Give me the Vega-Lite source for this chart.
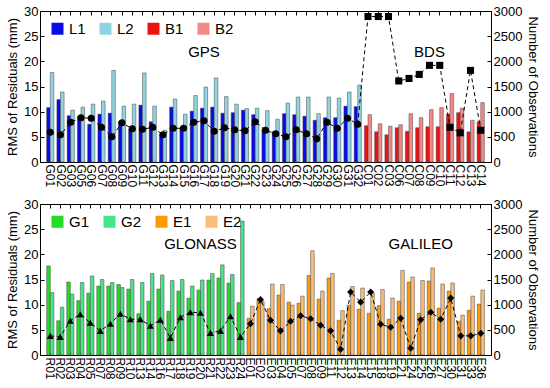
{
  "$schema": "https://vega.github.io/schema/vega-lite/v6.json",
  "padding": {"left": 6, "right": 6, "top": 4, "bottom": 2},
  "spacing": 9,
  "config": {
    "font": "Liberation Sans",
    "view": {"stroke": "black", "strokeWidth": 1},
    "axis": {"domainColor": "black", "tickColor": "black", "labelColor": "black", "titleColor": "black", "labelFontSize": 13, "titleFontSize": 13, "titleFontWeight": "normal", "grid": false, "labelFont": "Liberation Sans", "titleFont": "Liberation Sans"},
    "legend": {"orient": "top-left", "direction": "horizontal", "offset": 10, "padding": 0, "columnPadding": 12, "labelOffset": 4, "symbolType": "square", "symbolSize": 144, "symbolStrokeWidth": 0, "labelFontSize": 15, "labelColor": "black", "title": null}
  },
  "datasets": {
    "top_bars": [
      {"sat":"G01","band":"L1","f":1,"rms":10.8},{"sat":"G01","band":"L2","f":2,"rms":17.8},
      {"sat":"G02","band":"L1","f":1,"rms":12.4},{"sat":"G02","band":"L2","f":2,"rms":13.9},
      {"sat":"G03","band":"L1","f":1,"rms":9.2},{"sat":"G03","band":"L2","f":2,"rms":10.3},
      {"sat":"G05","band":"L1","f":1,"rms":9.0},{"sat":"G05","band":"L2","f":2,"rms":10.9},
      {"sat":"G06","band":"L1","f":1,"rms":7.5},{"sat":"G06","band":"L2","f":2,"rms":11.5},
      {"sat":"G07","band":"L1","f":1,"rms":9.5},{"sat":"G07","band":"L2","f":2,"rms":12.1},
      {"sat":"G08","band":"L1","f":1,"rms":9.7},{"sat":"G08","band":"L2","f":2,"rms":18.2},
      {"sat":"G09","band":"L1","f":1,"rms":8.0},{"sat":"G09","band":"L2","f":2,"rms":11.1},
      {"sat":"G10","band":"L1","f":1,"rms":6.5},{"sat":"G10","band":"L2","f":2,"rms":11.5},
      {"sat":"G11","band":"L1","f":1,"rms":11.3},{"sat":"G11","band":"L2","f":2,"rms":17.7},
      {"sat":"G12","band":"L1","f":1,"rms":8.0},{"sat":"G12","band":"L2","f":2,"rms":11.1},
      {"sat":"G13","band":"L1","f":1,"rms":5.5},{"sat":"G13","band":"L2","f":2,"rms":6.3},
      {"sat":"G14","band":"L1","f":1,"rms":10.9},{"sat":"G14","band":"L2","f":2,"rms":12.5},
      {"sat":"G15","band":"L1","f":1,"rms":6.8},{"sat":"G15","band":"L2","f":2,"rms":9.5},
      {"sat":"G16","band":"L1","f":1,"rms":10.1},{"sat":"G16","band":"L2","f":2,"rms":13.2},
      {"sat":"G17","band":"L1","f":1,"rms":10.7},{"sat":"G17","band":"L2","f":2,"rms":14.9},
      {"sat":"G18","band":"L1","f":1,"rms":10.9},{"sat":"G18","band":"L2","f":2,"rms":16.7},
      {"sat":"G19","band":"L1","f":1,"rms":9.7},{"sat":"G19","band":"L2","f":2,"rms":13.0},
      {"sat":"G20","band":"L1","f":1,"rms":9.8},{"sat":"G20","band":"L2","f":2,"rms":11.5},
      {"sat":"G21","band":"L1","f":1,"rms":10.3},{"sat":"G21","band":"L2","f":2,"rms":10.6},
      {"sat":"G22","band":"L1","f":1,"rms":9.4},{"sat":"G22","band":"L2","f":2,"rms":10.7},
      {"sat":"G23","band":"L1","f":1,"rms":6.5},{"sat":"G23","band":"L2","f":2,"rms":10.2},
      {"sat":"G24","band":"L1","f":1,"rms":6.0},{"sat":"G24","band":"L2","f":2,"rms":8.5},
      {"sat":"G25","band":"L1","f":1,"rms":9.6},{"sat":"G25","band":"L2","f":2,"rms":11.7},
      {"sat":"G26","band":"L1","f":1,"rms":9.4},{"sat":"G26","band":"L2","f":2,"rms":12.9},
      {"sat":"G27","band":"L1","f":1,"rms":9.1},{"sat":"G27","band":"L2","f":2,"rms":12.9},
      {"sat":"G28","band":"L1","f":1,"rms":8.3},{"sat":"G28","band":"L2","f":2,"rms":9.6},
      {"sat":"G29","band":"L1","f":1,"rms":8.8},{"sat":"G29","band":"L2","f":2,"rms":12.9},
      {"sat":"G30","band":"L1","f":1,"rms":8.8},{"sat":"G30","band":"L2","f":2,"rms":12.7},
      {"sat":"G31","band":"L1","f":1,"rms":11.1},{"sat":"G31","band":"L2","f":2,"rms":13.9},
      {"sat":"G32","band":"L1","f":1,"rms":11.0},{"sat":"G32","band":"L2","f":2,"rms":15.3},
      {"sat":"C01","band":"B1","f":1,"rms":7.2},{"sat":"C01","band":"B2","f":2,"rms":9.4},
      {"sat":"C02","band":"B1","f":1,"rms":6.0},{"sat":"C02","band":"B2","f":2,"rms":7.6},
      {"sat":"C03","band":"B1","f":1,"rms":5.4},{"sat":"C03","band":"B2","f":2,"rms":7.1},
      {"sat":"C06","band":"B1","f":1,"rms":6.8},{"sat":"C06","band":"B2","f":2,"rms":7.4},
      {"sat":"C07","band":"B1","f":1,"rms":6.1},{"sat":"C07","band":"B2","f":2,"rms":9.6},
      {"sat":"C08","band":"B1","f":1,"rms":6.8},{"sat":"C08","band":"B2","f":2,"rms":8.8},
      {"sat":"C09","band":"B1","f":1,"rms":7.0},{"sat":"C09","band":"B2","f":2,"rms":10.4},
      {"sat":"C10","band":"B1","f":1,"rms":7.0},{"sat":"C10","band":"B2","f":2,"rms":10.8},
      {"sat":"C11","band":"B1","f":1,"rms":9.5},{"sat":"C11","band":"B2","f":2,"rms":13.6},
      {"sat":"C12","band":"B1","f":1,"rms":9.8},{"sat":"C12","band":"B2","f":2,"rms":10.7},
      {"sat":"C13","band":"B1","f":1,"rms":6.0},{"sat":"C13","band":"B2","f":2,"rms":8.3},
      {"sat":"C14","band":"B1","f":1,"rms":8.0},{"sat":"C14","band":"B2","f":2,"rms":11.8}
    ],
    "top_obs": [
      {"sat":"G01","sys":"GPS","obs":590},{"sat":"G02","sys":"GPS","obs":540},{"sat":"G03","sys":"GPS","obs":790},
      {"sat":"G05","sys":"GPS","obs":880},{"sat":"G06","sys":"GPS","obs":870},{"sat":"G07","sys":"GPS","obs":690},
      {"sat":"G08","sys":"GPS","obs":500},{"sat":"G09","sys":"GPS","obs":780},{"sat":"G10","sys":"GPS","obs":660},
      {"sat":"G11","sys":"GPS","obs":650},{"sat":"G12","sys":"GPS","obs":690},{"sat":"G13","sys":"GPS","obs":540},
      {"sat":"G14","sys":"GPS","obs":670},{"sat":"G15","sys":"GPS","obs":670},{"sat":"G16","sys":"GPS","obs":790},
      {"sat":"G17","sys":"GPS","obs":820},{"sat":"G18","sys":"GPS","obs":610},{"sat":"G19","sys":"GPS","obs":680},
      {"sat":"G20","sys":"GPS","obs":640},{"sat":"G21","sys":"GPS","obs":620},{"sat":"G22","sys":"GPS","obs":800},
      {"sat":"G23","sys":"GPS","obs":630},{"sat":"G24","sys":"GPS","obs":560},{"sat":"G25","sys":"GPS","obs":500},
      {"sat":"G26","sys":"GPS","obs":640},{"sat":"G27","sys":"GPS","obs":560},{"sat":"G28","sys":"GPS","obs":460},
      {"sat":"G29","sys":"GPS","obs":790},{"sat":"G30","sys":"GPS","obs":670},{"sat":"G31","sys":"GPS","obs":870},
      {"sat":"G32","sys":"GPS","obs":750},
      {"sat":"C01","sys":"BDS","obs":2890},{"sat":"C02","sys":"BDS","obs":2890},{"sat":"C03","sys":"BDS","obs":2890},
      {"sat":"C06","sys":"BDS","obs":1610},{"sat":"C07","sys":"BDS","obs":1660},{"sat":"C08","sys":"BDS","obs":1740},
      {"sat":"C09","sys":"BDS","obs":1920},{"sat":"C10","sys":"BDS","obs":1920},{"sat":"C11","sys":"BDS","obs":690},
      {"sat":"C12","sys":"BDS","obs":580},{"sat":"C13","sys":"BDS","obs":1820},{"sat":"C14","sys":"BDS","obs":630}
    ],
    "top_text": [
      {"sat":"G17","rms":21.9,"label":"GPS"},
      {"sat":"C09","rms":21.9,"label":"BDS"}
    ],
    "bot_bars": [
      {"sat":"R01","band":"G1","f":1,"rms":17.7},{"sat":"R01","band":"G2","f":2,"rms":12.4},
      {"sat":"R02","band":"G1","f":1,"rms":6.8},{"sat":"R02","band":"G2","f":2,"rms":9.5},
      {"sat":"R03","band":"G1","f":1,"rms":14.5},{"sat":"R03","band":"G2","f":2,"rms":12.1},
      {"sat":"R04","band":"G1","f":1,"rms":10.8},{"sat":"R04","band":"G2","f":2,"rms":14.4},
      {"sat":"R05","band":"G1","f":1,"rms":12.3},{"sat":"R05","band":"G2","f":2,"rms":15.7},
      {"sat":"R07","band":"G1","f":1,"rms":13.7},{"sat":"R07","band":"G2","f":2,"rms":15.0},
      {"sat":"R08","band":"G1","f":1,"rms":13.7},{"sat":"R08","band":"G2","f":2,"rms":14.4},
      {"sat":"R09","band":"G1","f":1,"rms":14.0},{"sat":"R09","band":"G2","f":2,"rms":13.4},
      {"sat":"R10","band":"G1","f":1,"rms":13.1},{"sat":"R10","band":"G2","f":2,"rms":15.0},
      {"sat":"R13","band":"G1","f":1,"rms":8.2},{"sat":"R13","band":"G2","f":2,"rms":14.4},
      {"sat":"R14","band":"G1","f":1,"rms":10.7},{"sat":"R14","band":"G2","f":2,"rms":16.2},
      {"sat":"R16","band":"G1","f":1,"rms":13.1},{"sat":"R16","band":"G2","f":2,"rms":15.9},
      {"sat":"R17","band":"G1","f":1,"rms":8.7},{"sat":"R17","band":"G2","f":2,"rms":14.8},
      {"sat":"R18","band":"G1","f":1,"rms":12.7},{"sat":"R18","band":"G2","f":2,"rms":15.0},
      {"sat":"R19","band":"G1","f":1,"rms":11.3},{"sat":"R19","band":"G2","f":2,"rms":13.7},
      {"sat":"R20","band":"G1","f":1,"rms":12.9},{"sat":"R20","band":"G2","f":2,"rms":14.9},
      {"sat":"R21","band":"G1","f":1,"rms":14.9},{"sat":"R21","band":"G2","f":2,"rms":16.2},
      {"sat":"R22","band":"G1","f":1,"rms":15.3},{"sat":"R22","band":"G2","f":2,"rms":17.9},
      {"sat":"R23","band":"G1","f":1,"rms":14.3},{"sat":"R23","band":"G2","f":2,"rms":16.0},
      {"sat":"R24","band":"G1","f":1,"rms":10.4},{"sat":"R24","band":"G2","f":2,"rms":26.6},
      {"sat":"E01","band":"E1","f":1,"rms":7.3},{"sat":"E01","band":"E2","f":2,"rms":9.7},
      {"sat":"E02","band":"E1","f":1,"rms":11.2},{"sat":"E02","band":"E2","f":2,"rms":10.6},
      {"sat":"E03","band":"E1","f":1,"rms":9.2},{"sat":"E03","band":"E2","f":2,"rms":14.1},
      {"sat":"E04","band":"E1","f":1,"rms":11.9},{"sat":"E04","band":"E2","f":2,"rms":14.0},
      {"sat":"E05","band":"E1","f":1,"rms":10.5},{"sat":"E05","band":"E2","f":2,"rms":9.9},
      {"sat":"E07","band":"E1","f":1,"rms":10.3},{"sat":"E07","band":"E2","f":2,"rms":11.7},
      {"sat":"E08","band":"E1","f":1,"rms":15.8},{"sat":"E08","band":"E2","f":2,"rms":20.7},
      {"sat":"E09","band":"E1","f":1,"rms":11.1},{"sat":"E09","band":"E2","f":2,"rms":12.7},
      {"sat":"E11","band":"E1","f":1,"rms":15.3},{"sat":"E11","band":"E2","f":2,"rms":16.2},
      {"sat":"E12","band":"E1","f":1,"rms":6.9},{"sat":"E12","band":"E2","f":2,"rms":8.8},
      {"sat":"E13","band":"E1","f":1,"rms":9.9},{"sat":"E13","band":"E2","f":2,"rms":13.6},
      {"sat":"E14","band":"E1","f":1,"rms":9.1},{"sat":"E14","band":"E2","f":2,"rms":13.3},
      {"sat":"E15","band":"E1","f":1,"rms":8.3},{"sat":"E15","band":"E2","f":2,"rms":12.3},
      {"sat":"E18","band":"E1","f":1,"rms":9.8},{"sat":"E18","band":"E2","f":2,"rms":13.0},
      {"sat":"E19","band":"E1","f":1,"rms":7.1},{"sat":"E19","band":"E2","f":2,"rms":11.3},
      {"sat":"E21","band":"E1","f":1,"rms":10.7},{"sat":"E21","band":"E2","f":2,"rms":16.8},
      {"sat":"E24","band":"E1","f":1,"rms":14.5},{"sat":"E24","band":"E2","f":2,"rms":15.5},
      {"sat":"E25","band":"E1","f":1,"rms":8.3},{"sat":"E25","band":"E2","f":2,"rms":14.8},
      {"sat":"E26","band":"E1","f":1,"rms":14.7},{"sat":"E26","band":"E2","f":2,"rms":17.3},
      {"sat":"E27","band":"E1","f":1,"rms":9.3},{"sat":"E27","band":"E2","f":2,"rms":14.1},
      {"sat":"E30","band":"E1","f":1,"rms":12.7},{"sat":"E30","band":"E2","f":2,"rms":14.3},
      {"sat":"E31","band":"E1","f":1,"rms":6.7},{"sat":"E31","band":"E2","f":2,"rms":7.9},
      {"sat":"E33","band":"E1","f":1,"rms":8.9},{"sat":"E33","band":"E2","f":2,"rms":11.7},
      {"sat":"E36","band":"E1","f":1,"rms":10.1},{"sat":"E36","band":"E2","f":2,"rms":12.9}
    ],
    "bot_obs": [
      {"sat":"R01","sys":"GLONASS","obs":380},{"sat":"R02","sys":"GLONASS","obs":360},{"sat":"R03","sys":"GLONASS","obs":680},
      {"sat":"R04","sys":"GLONASS","obs":810},{"sat":"R05","sys":"GLONASS","obs":640},{"sat":"R07","sys":"GLONASS","obs":480},
      {"sat":"R08","sys":"GLONASS","obs":620},{"sat":"R09","sys":"GLONASS","obs":820},{"sat":"R10","sys":"GLONASS","obs":710},
      {"sat":"R13","sys":"GLONASS","obs":710},{"sat":"R14","sys":"GLONASS","obs":580},{"sat":"R16","sys":"GLONASS","obs":700},
      {"sat":"R17","sys":"GLONASS","obs":340},{"sat":"R18","sys":"GLONASS","obs":750},{"sat":"R19","sys":"GLONASS","obs":850},
      {"sat":"R20","sys":"GLONASS","obs":840},{"sat":"R21","sys":"GLONASS","obs":440},{"sat":"R22","sys":"GLONASS","obs":480},
      {"sat":"R23","sys":"GLONASS","obs":770},{"sat":"R24","sys":"GLONASS","obs":360},
      {"sat":"E01","sys":"GALILEO","obs":620},{"sat":"E02","sys":"GALILEO","obs":1100},{"sat":"E03","sys":"GALILEO","obs":690},
      {"sat":"E04","sys":"GALILEO","obs":480},{"sat":"E05","sys":"GALILEO","obs":670},{"sat":"E07","sys":"GALILEO","obs":780},
      {"sat":"E08","sys":"GALILEO","obs":720},{"sat":"E09","sys":"GALILEO","obs":590},{"sat":"E11","sys":"GALILEO","obs":480},
      {"sat":"E12","sys":"GALILEO","obs":115},{"sat":"E13","sys":"GALILEO","obs":1250},{"sat":"E14","sys":"GALILEO","obs":1050},
      {"sat":"E15","sys":"GALILEO","obs":1250},{"sat":"E18","sys":"GALILEO","obs":610},{"sat":"E19","sys":"GALILEO","obs":550},
      {"sat":"E21","sys":"GALILEO","obs":730},{"sat":"E24","sys":"GALILEO","obs":135},{"sat":"E25","sys":"GALILEO","obs":700},
      {"sat":"E26","sys":"GALILEO","obs":850},{"sat":"E27","sys":"GALILEO","obs":710},{"sat":"E30","sys":"GALILEO","obs":1130},
      {"sat":"E31","sys":"GALILEO","obs":380},{"sat":"E33","sys":"GALILEO","obs":380},{"sat":"E36","sys":"GALILEO","obs":430}
    ],
    "bot_text": [
      {"sat":"R20","rms":22,"label":"GLONASS"},
      {"sat":"E25","rms":22,"label":"GALILEO"}
    ]
  },
  "vconcat": [
    {
      "width": 451,
      "height": 151,
      "layer": [
        {
          "layer": [
            {
              "data": {"name": "top_bars"},
              "mark": {"type": "bar", "stroke": "#444444", "strokeWidth": 0.5},
              "encoding": {
                "xOffset": {"field": "f", "type": "nominal", "scale": {"paddingInner": 0, "paddingOuter": 0}},
                "color": {"field": "band", "type": "nominal", "scale": {"domain": ["L1","L2","B1","B2"], "range": ["#0b0be8","#90d4e3","#ee1111","#f48787"]}}
              }
            },
            {
              "data": {"name": "top_text"},
              "mark": {"type": "text", "fontSize": 15, "color": "black", "font": "Liberation Sans"},
              "encoding": {"text": {"field": "label"}}
            }
          ],
          "encoding": {
            "x": {"field": "sat", "type": "nominal", "sort": null, "scale": {"paddingInner": 0.3, "paddingOuter": 0.65},
              "axis": {"title": null, "labelAngle": 90, "labelFontSize": 12, "labelOverlap": false, "tickSize": -4, "labelPadding": 6, "domain": false}},
            "y": {"field": "rms", "type": "quantitative", "scale": {"domain": [0, 30]},
              "axis": {"orient": "left", "title": "RMS of Residuals (mm)", "values": [0,5,10,15,20,25,30], "tickSize": -4, "labelPadding": 6, "titlePadding": 4}}
          }
        },
        {
          "data": {"name": "top_obs"},
          "layer": [
            {"mark": {"type": "line", "color": "black", "strokeDash": [4, 3], "strokeWidth": 1}, "encoding": {}},
            {"mark": {"type": "point", "filled": true, "color": "black", "opacity": 1, "size": 50},
              "encoding": {"shape": {"field": "sys", "type": "nominal", "scale": {"domain": ["GPS","BDS"], "range": ["circle","square"]}, "legend": null}}}
          ],
          "encoding": {
            "x": {"field": "sat", "type": "nominal", "sort": null,
              "axis": {"orient": "top", "title": null, "labels": false, "tickSize": -4, "domain": false}},
            "y": {"field": "obs", "type": "quantitative", "scale": {"domain": [0, 3000]},
              "axis": {"orient": "right", "title": "Number of Observations", "format": "d", "values": [0,500,1000,1500,2000,2500,3000], "tickSize": -4, "labelPadding": 6, "titlePadding": 4}}
          }
        }
      ],
      "resolve": {"scale": {"y": "independent"}, "axis": {"x": "independent"}}
    },
    {
      "width": 451,
      "height": 151,
      "layer": [
        {
          "layer": [
            {
              "data": {"name": "bot_bars"},
              "mark": {"type": "bar", "stroke": "#444444", "strokeWidth": 0.5},
              "encoding": {
                "xOffset": {"field": "f", "type": "nominal", "scale": {"paddingInner": 0, "paddingOuter": 0}},
                "color": {"field": "band", "type": "nominal", "scale": {"domain": ["G1","G2","E1","E2"], "range": ["#22dd22","#45e58a","#ff9a00","#fbbd78"]}}
              }
            },
            {
              "data": {"name": "bot_text"},
              "mark": {"type": "text", "fontSize": 15, "color": "black", "font": "Liberation Sans"},
              "encoding": {"text": {"field": "label"}}
            }
          ],
          "encoding": {
            "x": {"field": "sat", "type": "nominal", "sort": null, "scale": {"paddingInner": 0.3, "paddingOuter": 0.67},
              "axis": {"title": null, "labelAngle": 90, "labelFontSize": 12, "labelOverlap": false, "tickSize": -4, "labelPadding": 6, "domain": false}},
            "y": {"field": "rms", "type": "quantitative", "scale": {"domain": [0, 30]},
              "axis": {"orient": "left", "title": "RMS of Residuals (mm)", "values": [0,5,10,15,20,25,30], "tickSize": -4, "labelPadding": 6, "titlePadding": 4}}
          }
        },
        {
          "data": {"name": "bot_obs"},
          "layer": [
            {"mark": {"type": "line", "color": "black", "strokeDash": [4, 3], "strokeWidth": 1}, "encoding": {}},
            {"mark": {"type": "point", "filled": true, "color": "black", "opacity": 1, "size": 50},
              "encoding": {"shape": {"field": "sys", "type": "nominal", "scale": {"domain": ["GLONASS","GALILEO"], "range": ["triangle-up","diamond"]}, "legend": null}}}
          ],
          "encoding": {
            "x": {"field": "sat", "type": "nominal", "sort": null,
              "axis": {"orient": "top", "title": null, "labels": false, "tickSize": -4, "domain": false}},
            "y": {"field": "obs", "type": "quantitative", "scale": {"domain": [0, 3000]},
              "axis": {"orient": "right", "title": "Number of Observations", "format": "d", "values": [0,500,1000,1500,2000,2500,3000], "tickSize": -4, "labelPadding": 6, "titlePadding": 4}}
          }
        }
      ],
      "resolve": {"scale": {"y": "independent"}, "axis": {"x": "independent"}}
    }
  ],
  "resolve": {"scale": {"color": "independent", "shape": "independent"}, "legend": {"color": "independent"}}
}
